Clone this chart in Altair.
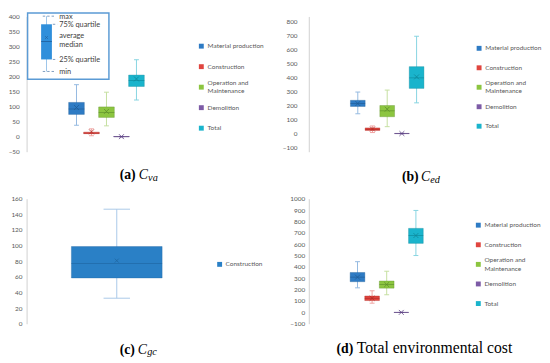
import altair as alt
import pandas as pd

# ---------------- data ----------------
SERIES = ["Material production", "Construction", "Operation and\n Maintenance", "Demolition", "Total"]
COL = ["#2E7BC4", "#E0453F", "#8CC540", "#7D5BA6", "#1AB4CC"]
LIGHT = ["#93B9E0", "#F0A3A1", "#C5DFA0", "#B9A8D2", "#86D4E1"]
DARK = ["#1F5C96", "#B02A25", "#5E8F2A", "#5A3F80", "#0E8798"]

# (a) Cva
A_MIN = [38, 3, 36, -1, 122]
A_Q1 = [74, 10, 64, -0.5, 167]
A_MED = [92, 12, 80, 0, 187]
A_MEAN = [97, 16, 84, 0, 192]
A_Q3 = [114, 15, 99, 0.5, 205]
A_MAX = [173, 26, 148, 1, 256]
A_TICKS = [-50, 0, 50, 100, 150, 200, 250, 300, 350, 400]

# (b) Ced
B_MIN = [139, 5, 47, -4, 217]
B_Q1 = [191, 20, 118, -3, 320]
B_MED = [212, 28, 160, -2, 395]
B_MEAN = [212, 30, 172, -2, 402]
B_Q3 = [235, 38, 198, -1, 475]
B_MAX = [294, 52, 308, 0, 692]
B_TICKS = [-100, 0, 100, 200, 300, 400, 500, 600, 700, 800]

# (c) Cgc
C_SERIES = ["Construction"]
C_COL = ["#2A80C6"]
C_LIGHT = ["#A9C8E8"]
C_DARK = ["#1F65A0"]
C_MIN = [32.7]
C_Q1 = [58.6]
C_MED = [77]
C_MEAN = [80.8]
C_Q3 = [98.8]
C_MAX = [146.6]
C_TICKS = [0, 20, 40, 60, 80, 100, 120, 140, 160]

# (d) total environmental cost
D_MIN = [216, 81, 155, -1, 500]
D_Q1 = [270, 104, 213, -0.5, 607]
D_MED = [310, 124, 245, 0, 676]
D_MEAN = [310, 124, 245, 0, 676]
D_Q3 = [351, 144, 276, 0.5, 739]
D_MAX = [446, 190, 362, 1, 897]
D_TICKS = [-100, 0, 100, 200, 300, 400, 500, 600, 700, 800, 900, 1000]

# key (inset in panel a)
KEY_LABELS = ["max", "75% quartile", "average", "median", "25% quartile", "min"]
KEY_LABEL_VALS = [399, 371, 335, 306, 255, 214]
KEY_MIN, KEY_Q1, KEY_MED, KEY_MEAN, KEY_Q3, KEY_MAX = 217, 257, 317, 330, 374, 401

CAP_A = ["(a)", "C", "va"]
CAP_B = ["(b)", "C", "ed"]
CAP_C = ["(c)", "C", "gc"]
CAP_D = ["(d)", "Total environmental cost"]

# ---------------- styling ----------------
FONT = "Lato"
SERIF = "Liberation Serif"
AXIS_GRAY = "#D0D0D0"
TEXT_GRAY = "#595959"
X_PATH = "M-1,-1L1,1M-1,1L1,-1"
LEG_FS = 6.6
LEG_LH = 8.6


def make_df(names, cols, lights, darks, mn, q1, med, mean, q3, mx, first_pos):
    n = len(names)
    return pd.DataFrame({
        "name": names, "col": cols, "light": lights, "dark": darks,
        "pos": [first_pos + i for i in range(n)], "li": list(range(n)),
        "nl": [s.count("\n") for s in names],
        "mn": mn, "q1": q1, "med": med, "mean": mean, "q3": q3, "mx": mx,
    })


def text_layer(s, x, y, size, weight="normal", style="normal", font=SERIF, color="#000000", baseline="alphabetic"):
    return alt.Chart(pd.DataFrame({"t": [s]})).mark_text(
        align="left", baseline=baseline, fontSize=size, fontWeight=weight,
        fontStyle=style, font=font, color=color
    ).encode(text="t:N", x=alt.value(x), y=alt.value(y))


def panel(df, w, h, ydom, yticks, lpad, box_w, cap_w, mean_size, leg_x, lab_x, leg_range,
          captions, extra=None, x_offset=0):
    xscale = alt.Scale(domain=[0, 10], nice=False, zero=False)
    xenc = alt.X("pos:Q", scale=xscale,
                 axis=alt.Axis(domain=True, domainColor=AXIS_GRAY, domainWidth=1, ticks=False,
                               labels=False, grid=False, title=None, offset=x_offset))
    xplain = alt.X("pos:Q", scale=xscale, axis=None)
    yscale = alt.Scale(domain=ydom, nice=False, zero=False)
    yaxis = alt.Axis(values=yticks, format="d", domain=True, domainColor=AXIS_GRAY, domainWidth=1,
                     ticks=False, grid=False, title=None, labelFont=FONT, labelFontSize=6.5,
                     labelColor=TEXT_GRAY, labelPadding=lpad, labelFlush=False)

    def Y(f, ax=False):
        return alt.Y(f"{f}:Q", scale=yscale, axis=yaxis if ax else None)

    base = alt.Chart(df)
    whisk = base.mark_rule(strokeWidth=1).encode(
        x=xenc, y=Y("mn", True), y2="mx:Q", stroke=alt.Stroke("light:N", scale=None))
    cap_hi = base.mark_tick(orient="horizontal", size=cap_w, thickness=1, opacity=1).encode(
        x=xplain, y=Y("mx"), fill=alt.Fill("light:N", scale=None))
    cap_lo = base.mark_tick(orient="horizontal", size=cap_w, thickness=1, opacity=1).encode(
        x=xplain, y=Y("mn"), fill=alt.Fill("light:N", scale=None))
    box = base.mark_bar(width=box_w, strokeWidth=0.6, strokeOpacity=0.6).encode(
        x=xplain, y=Y("q1"), y2="q3:Q", fill=alt.Fill("col:N", scale=None),
        stroke=alt.Stroke("dark:N", scale=None))
    med = base.mark_tick(orient="horizontal", size=box_w, thickness=0.8, opacity=0.8).encode(
        x=xplain, y=Y("med"), fill=alt.Fill("dark:N", scale=None))
    mean = base.mark_point(shape=X_PATH, size=mean_size, filled=False, strokeWidth=0.8, opacity=1).encode(
        x=xplain, y=Y("mean"), stroke=alt.Stroke("dark:N", scale=None))

    layers = [whisk, cap_hi, cap_lo, box, med, mean]
    if extra is not None:
        layers += extra(xscale, yscale)

    n = len(df)
    rng = leg_range if n > 1 else [leg_range[0], leg_range[0] + 20]
    step = (rng[1] - rng[0]) / max(1, n - 1)
    lscale = alt.Scale(domain=[0, max(1, n - 1)], range=rng)
    lsq = base.mark_square(size=25, opacity=1).encode(
        x=alt.value(leg_x), y=alt.Y("li:Q", scale=lscale, axis=None),
        fill=alt.Fill("col:N", scale=None))
    ltx = base.transform_calculate(
        ty=f"datum.li - datum.nl * {0.5 * LEG_LH / step}"
    ).mark_text(align="left", baseline="middle", fontSize=LEG_FS, font=FONT, lineHeight=LEG_LH,
                color=TEXT_GRAY, lineBreak="\n").encode(
        x=alt.value(lab_x), y=alt.Y("ty:Q", scale=lscale, axis=None), text="name:N")
    layers += [lsq, ltx]
    layers += captions
    return alt.layer(*layers).resolve_scale(y="independent").properties(width=w, height=h)


def key_layers(xscale, yscale):
    kx = 1.0
    kdf = pd.DataFrame({"pos": [kx], "mn": [KEY_MIN], "q1": [KEY_Q1], "med": [KEY_MED],
                        "mean": [KEY_MEAN], "q3": [KEY_Q3], "mx": [KEY_MAX]})
    ldf = pd.DataFrame({"t": KEY_LABELS, "v": KEY_LABEL_VALS, "pos": [1.85] * len(KEY_LABELS)})
    X = lambda f: alt.X(f"{f}:Q", scale=xscale, axis=None)
    Yk = lambda f: alt.Y(f"{f}:Q", scale=yscale, axis=None)
    frame = alt.Chart(pd.DataFrame({"a": [0]})).mark_rect(
        fill="white", stroke="#5B9BD5", strokeWidth=1.5).encode(
        x=alt.value(1), x2=alt.value(84), y=alt.value(-3.5), y2=alt.value(64))
    kb = alt.Chart(kdf)
    wh = kb.mark_rule(color="#9CC5EA", strokeWidth=1).encode(x=X("pos"), y=Yk("mn"), y2="mx:Q")
    bx = kb.mark_bar(width=11, color="#2F8FDB").encode(x=X("pos"), y=Yk("q1"), y2="q3:Q")
    md = kb.mark_tick(orient="horizontal", size=11, thickness=0.8, color="#1E5E9A", opacity=1).encode(
        x=X("pos"), y=Yk("med"))
    mn = kb.mark_point(shape=X_PATH, size=9, filled=False, strokeWidth=0.6, color="#1E5E9A", opacity=1).encode(
        x=X("pos"), y=Yk("mean"))
    dash_df = pd.DataFrame({"x1": [0.75, 1.42, 1.42, 0.75], "x2": [1.5, 1.72, 1.72, 1.5],
                            "v": [KEY_MAX, KEY_Q3, KEY_Q1, KEY_MIN]})
    dashes = alt.Chart(dash_df).mark_rule(color="#7F9DBF", strokeWidth=1, strokeDash=[2.5, 2]).encode(
        x=alt.X("x1:Q", scale=xscale, axis=None), x2="x2:Q", y=Yk("v"))
    labels = alt.Chart(ldf).mark_text(align="left", baseline="middle", fontSize=7.5, font=FONT,
                                      color="#404040").encode(x=X("pos"), y=Yk("v"), text="t:N")
    return [frame, wh, bx, md, mn, dashes, labels]


df_a = make_df(SERIES, COL, LIGHT, DARK, A_MIN, A_Q1, A_MED, A_MEAN, A_Q3, A_MAX, 3)
df_b = make_df(SERIES, COL, LIGHT, DARK, B_MIN, B_Q1, B_MED, B_MEAN, B_Q3, B_MAX, 3)
df_c = make_df(C_SERIES, C_COL, C_LIGHT, C_DARK, C_MIN, C_Q1, C_MED, C_MEAN, C_Q3, C_MAX, 5)
df_d = make_df(SERIES, COL, LIGHT, DARK, D_MIN, D_Q1, D_MED, D_MEAN, D_Q3, D_MAX, 3)

cap_a = [text_layer(CAP_A[0], 95, 166, 14, weight="bold"),
         text_layer(CAP_A[1], 114.5, 166, 14, style="italic"),
         text_layer(CAP_A[2], 124, 168, 10.5, style="italic")]
cap_b = [text_layer(CAP_B[0], 95, 167.5, 14, weight="bold"),
         text_layer(CAP_B[1], 114.5, 167.5, 14, style="italic"),
         text_layer(CAP_B[2], 124, 169.5, 10.5, style="italic")]
cap_c = [text_layer(CAP_C[0], 95, 158, 14, weight="bold"),
         text_layer(CAP_C[1], 113.5, 158, 14, style="italic"),
         text_layer(CAP_C[2], 123, 160, 10.5, style="italic")]
cap_d = [text_layer(CAP_D[0], 28.3, 157.5, 14, weight="bold"),
         text_layer(CAP_D[1], 49, 157.5, 16)]

pa = panel(df_a, 163, 138, [-50, 400], A_TICKS, 7.5, 16, 5, 25, 178.3, 184.7, [30.3, 114], cap_a,
           extra=key_layers)
pb = panel(df_b, 160, 138, [-131.4, 833], B_TICKS, 12, 15, 5, 25, 173.8, 180, [32.5, 112], cap_b,
           x_offset=-4.5)
pc = panel(df_c, 184, 127.6, [0, 160], C_TICKS, 4.7, 92.6, 27, 16, 197, 203, [67, 87], cap_c)
pd_ = panel(df_d, 159, 127.6, [-100, 1000], D_TICKS, 4.3, 15, 5, 25, 173, 179.3, [27, 107], cap_d)

chart = alt.concat(pa, pb, pc, pd_, columns=2, spacing={"row": 48, "column": 104},
                   bounds="flush").properties(padding=0, background="white").configure_view(stroke=None)

chart.save("out.html", embed_options={"renderer": "svg", "actions": False})
